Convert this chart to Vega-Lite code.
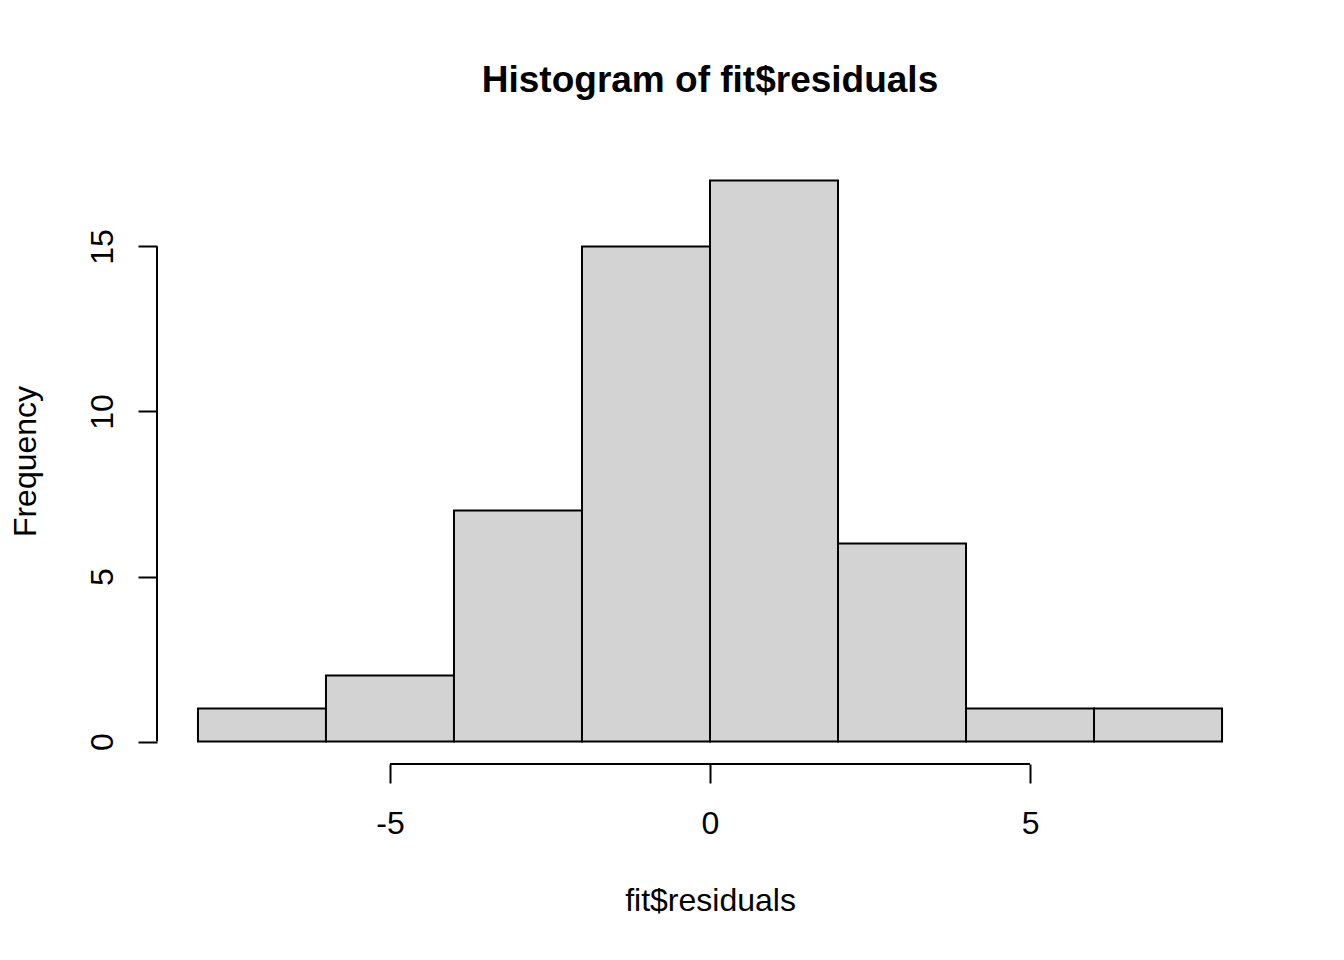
{
  "$schema": "https://vega.github.io/schema/vega-lite/v6.json",
  "description": "Histogram of fit$residuals, base R style.",
  "autosize": "none",
  "width": 1106,
  "height": 606,
  "padding": {"left": 157, "top": 158, "right": 81, "bottom": 196},
  "background": "white",
  "title": {
    "text": "Histogram of fit$residuals",
    "fontSize": 37,
    "fontWeight": "bold",
    "font": "Liberation Sans",
    "color": "black",
    "anchor": "middle",
    "frame": "group",
    "baseline": "alphabetic",
    "offset": 29
  },
  "data": {
    "values": [
      {"lo": -8, "hi": -6, "count": 1},
      {"lo": -6, "hi": -4, "count": 2},
      {"lo": -4, "hi": -2, "count": 7},
      {"lo": -2, "hi": 0, "count": 15},
      {"lo": 0, "hi": 2, "count": 17},
      {"lo": 2, "hi": 4, "count": 6},
      {"lo": 4, "hi": 6, "count": 1},
      {"lo": 6, "hi": 8, "count": 1}
    ]
  },
  "layer": [
    {
      "mark": {"type": "rect", "fill": "#D3D3D3", "stroke": "black", "strokeWidth": 2},
      "encoding": {
        "x": {
          "field": "lo",
          "type": "quantitative",
          "scale": {"domain": [-8.64, 8.64], "nice": false, "zero": false},
          "axis": {
            "values": [-5, 0, 5],
            "labelExpr": "toString(datum.value)",
            "domain": false,
            "grid": false,
            "tickSize": 19,
            "tickWidth": 2,
            "tickColor": "black",
            "labelFontSize": 32,
            "labelColor": "black",
            "labelBaseline": "alphabetic",
            "labelPadding": 50,
            "labelFlush": false,
            "labelOverlap": false,
            "title": "fit$residuals",
            "titleFontSize": 32,
            "titleFontWeight": "normal",
            "titleColor": "black",
            "titleBaseline": "alphabetic",
            "titleX": 553,
            "titleY": 146
          }
        },
        "x2": {"field": "hi"},
        "y": {
          "field": "count",
          "type": "quantitative",
          "scale": {"domain": [-0.68, 17.68], "nice": false, "zero": false},
          "axis": {
            "values": [0, 5, 10, 15],
            "labelExpr": "toString(datum.value)",
            "domain": false,
            "grid": false,
            "tickSize": 19,
            "tickWidth": 2,
            "tickColor": "black",
            "labelFontSize": 32,
            "labelColor": "black",
            "labelAngle": 270,
            "labelAlign": "center",
            "labelBaseline": "alphabetic",
            "labelPadding": 26,
            "labelOverlap": false,
            "title": "Frequency",
            "titleFontSize": 32,
            "titleFontWeight": "normal",
            "titleColor": "black",
            "titleAngle": 270,
            "titleAlign": "center",
            "titleBaseline": "alphabetic",
            "titleX": -122,
            "titleY": 303
          }
        },
        "y2": {"datum": 0}
      }
    },
    {
      "data": {"values": [{}]},
      "mark": {"type": "rule", "color": "black", "strokeWidth": 2},
      "encoding": {
        "x": {"datum": -5},
        "x2": {"datum": 5},
        "y": {"datum": -0.68}
      }
    },
    {
      "data": {"values": [{}]},
      "mark": {"type": "rule", "color": "black", "strokeWidth": 2},
      "encoding": {
        "x": {"datum": -8.64},
        "y": {"datum": 0},
        "y2": {"datum": 15}
      }
    }
  ],
  "config": {
    "font": "Liberation Sans",
    "view": {"stroke": null}
  }
}
